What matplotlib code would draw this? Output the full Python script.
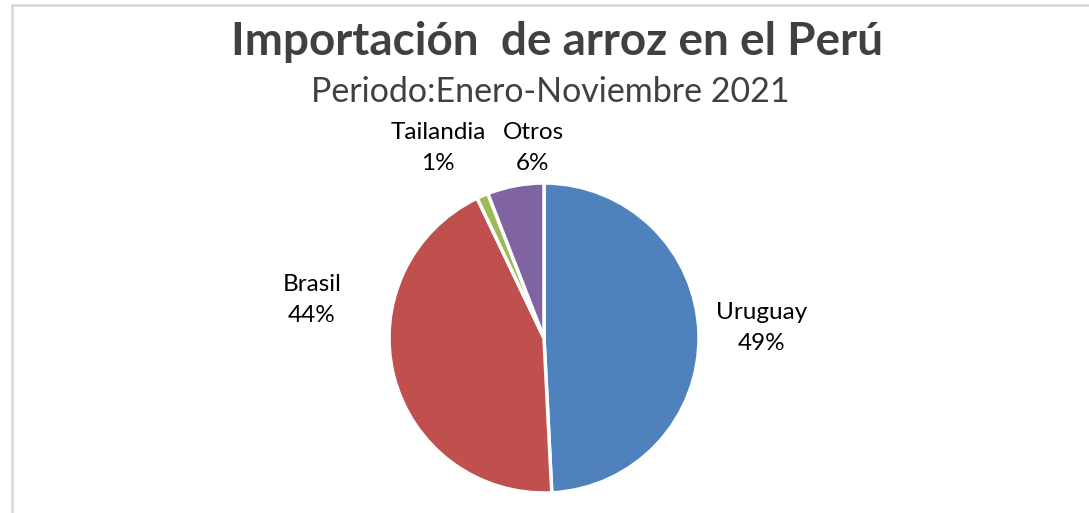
import matplotlib.pyplot as plt
from matplotlib.patches import Rectangle

# Datos del gráfico
paises = ['Uruguay', 'Brasil', 'Tailandia', 'Otros']
porcentajes = [49.2, 43.7, 1.2, 5.9]
etiquetas_pct = ['49%', '44%', '1%', '6%']
colores = ['#4F81BD', '#C0504D', '#9BBB59', '#8064A2']

plt.rcParams['font.family'] = ['Lato', 'DejaVu Sans']

fig = plt.figure(figsize=(10.89, 5.13), dpi=100)

# marco gris del gráfico
fig.patches.append(Rectangle((12 / 1089, -0.1), 1.2, 1.1 - 5 / 513, transform=fig.transFigure,
                             fill=False, edgecolor='#D9D9D9', linewidth=2))

ax = fig.add_axes([389 / 1089, 20 / 513, 310 / 1089, 310 / 513])
ax.pie(porcentajes, colors=colores, startangle=90, counterclock=False,
       wedgeprops={'edgecolor': 'white', 'linewidth': 2.5})
ax.set_xlim(-1, 1)
ax.set_ylim(-1, 1)
ax.set_aspect('equal')
ax.axis('off')

# posiciones de las etiquetas (fuera del pastel, como en Excel)
pos_etiquetas = [(1.406, 0.065), (-1.497, 0.245), (-0.684, 1.225), (-0.071, 1.225)]
for nombre, pct, (x, y) in zip(paises, etiquetas_pct, pos_etiquetas):
    ax.text(x, y, f'{nombre}\n{pct}', ha='center', va='center', fontsize=17.5,
            color='black', linespacing=1.55)

fig.text(557 / 1089, 1 - 42 / 513, 'Importación  de arroz en el Perú', ha='center', va='center',
         fontsize=33, fontweight='bold', color='#404040')
fig.text(550 / 1089, 1 - 92 / 513, 'Periodo:Enero-Noviembre 2021', ha='center', va='center',
         fontsize=24.5, color='#404040')

fig.savefig('out.png', dpi=100)
